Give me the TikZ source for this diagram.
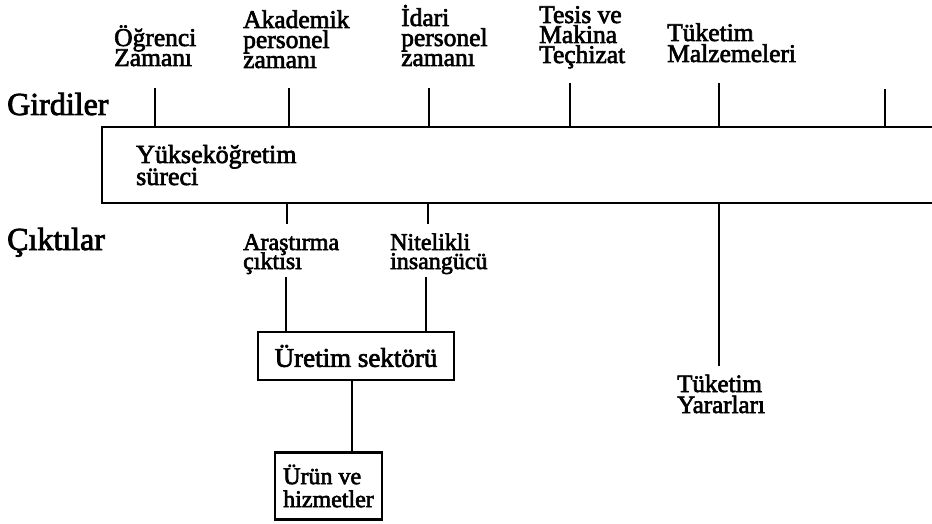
\documentclass[tikz,border=0pt]{standalone}
\usepackage{fontspec}
\setmainfont{Liberation Serif}
\newfontfamily\inky{Liberation Serif}[FakeBold=2.5]
\newcommand\stk[1]{\vtop{\lineskiplimit=-\maxdimen\lineskip=0pt\halign{##\hfil\cr#1\crcr}}}
\begin{document}
\begin{tikzpicture}[x=1pt,y=-1pt,
  ln/.style={line width=2.2pt,black},
  lbl/.style={inner sep=0pt,anchor=base west,font=\inky\fontsize{25.5}{20}\selectfont},
  side/.style={inner sep=0pt,anchor=base west,font=\inky\fontsize{32}{32}\selectfont},
  boxnode/.style={draw,line width=2.2pt,inner sep=0pt}]
\useasboundingbox[fill=white] (0,0) rectangle (932,524);
% side labels
\node[side] (gir) at (7,115) {Girdiler};
\node[side] (cik) at (7,250) {Çıktılar};
% input labels
\node[lbl] (ogr) at (114,46) {\stk{Öğrenci\cr Zamanı}};
\node[lbl] (aka) at (243,28) {\stk{Akademik\cr personel\cr zamanı}};
\node[lbl] (ida) at (401,26) {\stk{İdari\cr personel\cr zamanı}};
\node[lbl] (tes) at (539,23) {\stk{Tesis ve\cr Makina\cr Teçhizat}};
\node[lbl,font=\inky\fontsize{25.5}{21}\selectfont] (tuk) at (667,41) {\stk{Tüketim\cr Malzemeleri}};
% process box (open on the right)
\coordinate (pTR) at (932,127);
\coordinate (pTL) at (102,127);
\coordinate (pBL) at (102,203);
\coordinate (pBR) at (932,203);
\draw[ln] (pTR) -- (pTL) -- (pBL) -- (pBR);
\node[lbl,font=\inky\fontsize{26}{22}\selectfont] (yuk) at (136,163) {\stk{Yükseköğretim\cr süreci}};
% input ticks
\foreach \n/\x/\t in {t1/155/88,t2/289/88,t3/429/88,t4/570/83,t5/719/83,t6/885/89}{
  \coordinate (\n a) at (\x,\t);
  \coordinate (\n b) at (\x,127);
  \draw[ln] (\n a) -- (\n b);
}
% outputs
\node[lbl,font=\inky\fontsize{24}{19}\selectfont] (ara) at (243,250) {\stk{Araştırma\cr çıktısı}};
\node[lbl,font=\inky\fontsize{24}{19}\selectfont] (nit) at (390,250) {\stk{Nitelikli\cr insangücü}};
\node[lbl,font=\inky\fontsize{25}{21}\selectfont] (yar) at (677,392) {\stk{Tüketim\cr Yararları}};
\node[boxnode,minimum width=196pt,minimum height=48pt,font=\inky\fontsize{27}{22}\selectfont] (ure) at (356,356) {Üretim sektörü};
\node[boxnode,minimum width=107pt,minimum height=67pt,font=\inky\fontsize{24}{23}\selectfont] (uru) at (328.5,486) {\stk{Ürün ve\cr hizmetler}};
\coordinate (o1a) at (287,203);
\coordinate (o1b) at (287,224);
\coordinate (o1c) at (286,277);
\coordinate (o2a) at (428,203);
\coordinate (o2b) at (428,224);
\coordinate (o2c) at (426,277);
\coordinate (o3a) at (719,203);
\coordinate (o3b) at (719,366);
\coordinate (o4a) at (352,380);
\draw[ln] (o1a) -- (o1b);
\draw[ln] (o2a) -- (o2b);
\draw[ln] (o1c) -- (o1c |- ure.north);
\draw[ln] (o2c) -- (o2c |- ure.north);
\draw[ln] (o3a) -- (o3b);
\draw[ln] (o4a |- ure.south) -- (o4a |- uru.north);
\end{tikzpicture}
\end{document}
